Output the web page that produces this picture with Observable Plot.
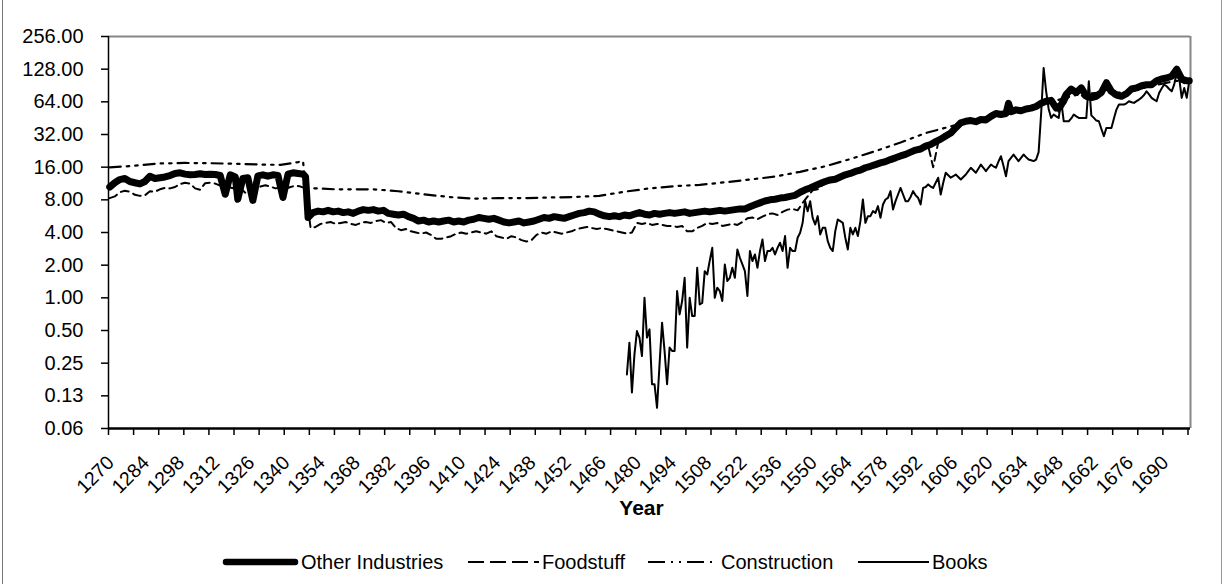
<!DOCTYPE html>
<html><head><meta charset="utf-8">
<script src="https://cdn.jsdelivr.net/npm/d3@7"></script>
<script src="https://cdn.jsdelivr.net/npm/@observablehq/plot@0.6"></script>
<style>
body{margin:0;background:#fff;}
#wrap{position:relative;width:1223px;height:584px;overflow:hidden;background:#fff;font-family:"Liberation Sans",Arial,sans-serif;}
#chart{position:absolute;left:0;top:0;}
.leg-sw{position:absolute;}
.leg-tx{position:absolute;font-size:20px;line-height:20px;color:#000;white-space:nowrap;}
#bl{position:absolute;left:2px;top:0;width:1px;height:584px;background:#777;}
#br{position:absolute;left:1221px;top:0;width:1px;height:584px;background:#999;}
</style></head>
<body><div id="wrap"><div id="chart"></div><div id="bl"></div><div id="br"></div></div>
<script>
// ---------- DATA ----------
const seriesNames = ["Other Industries", "Foodstuff", "Construction", "Books"];

const otherIndustries = [
[1270,10.5],[1272,11.5],[1274,12.3],[1276,12.6],[1278,11.8],[1280,11.5],[1282,11.2],[1284,11.8],[1286,13.2],[1288,12.6],
[1290,12.8],[1292,13.0],[1294,13.4],[1296,14.0],[1298,14.2],[1300,13.8],[1302,13.6],[1304,13.7],[1306,13.9],[1308,13.7],
[1310,13.8],[1312,13.7],[1314,13.4],[1316,9.0],[1318,13.6],[1320,13.0],[1321,8.1],[1323,12.6],[1325,12.8],[1327,7.9],
[1329,13.3],[1331,13.6],[1333,13.2],[1335,13.6],[1337,13.4],[1339,8.4],[1341,13.8],[1343,14.2],[1345,14.0],[1347,13.8],
[1348,13.0],[1349,5.5],[1351,6.1],[1353,6.3],[1355,6.2],[1357,6.4],[1359,6.2],[1361,6.3],[1363,6.1],[1365,6.2],
[1367,6.0],[1369,6.3],[1371,6.5],[1373,6.4],[1375,6.5],[1377,6.3],[1379,6.4],[1381,6.0],[1383,5.9],[1385,5.8],
[1387,5.9],[1389,5.6],[1391,5.4],[1393,5.1],[1395,5.2],[1397,5.0],[1399,5.1],[1401,5.0],[1403,5.1],[1405,5.2],
[1407,5.0],[1409,5.1],[1411,5.0],[1413,5.2],[1415,5.3],[1417,5.5],[1419,5.4],[1421,5.3],[1423,5.4],[1425,5.2],
[1427,5.0],[1429,4.9],[1431,5.0],[1433,5.1],[1435,4.9],[1437,5.0],[1439,5.1],[1441,5.3],[1443,5.5],[1445,5.4],
[1447,5.6],[1449,5.5],[1451,5.4],[1453,5.6],[1455,5.8],[1457,6.0],[1459,6.1],[1461,6.3],[1463,6.2],[1465,5.9],
[1467,5.7],[1469,5.6],[1471,5.7],[1473,5.6],[1475,5.8],[1477,5.7],[1479,5.9],[1481,6.1],[1483,5.9],[1485,5.8],
[1487,6.0],[1489,5.9],[1491,6.0],[1493,6.1],[1495,6.0],[1497,6.1],[1499,6.2],[1501,6.0],[1503,6.1],[1505,6.2],
[1507,6.3],[1509,6.2],[1511,6.3],[1513,6.4],[1515,6.3],[1517,6.4],[1519,6.5],[1521,6.6],[1523,6.6],[1525,6.9],
[1527,7.2],[1529,7.5],[1531,7.8],[1533,8.0],[1535,8.1],[1537,8.3],[1539,8.4],[1541,8.6],[1543,8.8],[1545,9.4],
[1547,9.9],[1549,10.3],[1551,10.8],[1553,11.3],[1555,11.8],[1557,12.2],[1559,12.4],[1561,13.0],[1563,13.6],[1565,14.0],
[1567,14.6],[1569,15.0],[1571,15.8],[1573,16.3],[1575,16.9],[1577,17.5],[1579,18.0],[1581,18.8],[1583,19.5],[1585,20.3],
[1587,21.0],[1589,22.0],[1591,23.0],[1593,23.5],[1595,25.0],[1597,25.9],[1599,27.5],[1601,29.0],[1603,31.0],[1605,33.0],
[1607,37.0],[1609,41.0],[1611,42.4],[1613,43.0],[1615,42.0],[1617,44.0],[1619,43.5],[1621,47.0],[1623,50.0],[1625,48.9],
[1627,50.0],[1628,62.0],[1629,52.0],[1631,54.0],[1633,53.0],[1635,55.0],[1637,56.0],[1639,58.0],[1641,62.0],[1643,64.8],
[1645,66.0],[1647,56.0],[1649,60.0],[1651,75.0],[1653,84.0],[1655,78.0],[1657,86.0],[1659,72.0],[1661,70.0],[1663,72.0],
[1665,78.0],[1667,96.0],[1669,80.0],[1671,74.0],[1673,72.0],[1675,76.0],[1677,84.0],[1679,86.0],[1681,90.0],[1683,92.0],
[1685,92.0],[1687,100.0],[1689,104.0],[1691,106.0],[1693,110.0],[1695,128.0],[1697,104.0],[1699,100.0],[1700,100.0]
];

const foodstuff = [
[1270,8.3],[1272,8.6],[1274,9.4],[1276,9.7],[1278,9.5],[1280,8.9],[1282,8.7],[1284,8.8],[1286,9.6],[1288,9.5],
[1290,10.0],[1292,10.3],[1294,10.2],[1296,10.5],[1298,11.2],[1300,11.5],[1302,11.3],[1304,10.2],[1306,9.9],[1308,11.4],
[1310,11.5],[1312,11.3],[1314,10.8],[1316,10.2],[1318,10.4],[1320,10.1],[1322,10.3],[1324,9.3],[1326,9.0],[1328,9.6],
[1330,10.6],[1332,10.9],[1334,10.6],[1336,10.2],[1338,10.4],[1340,10.1],[1342,10.5],[1344,10.8],[1346,10.6],[1348,10.2],
[1350,4.4],[1352,4.5],[1354,4.8],[1356,4.9],[1358,5.0],[1360,4.8],[1362,4.9],[1364,5.0],[1366,4.8],[1368,4.7],
[1370,4.9],[1372,5.0],[1374,4.9],[1376,5.1],[1378,5.2],[1380,4.9],[1382,5.0],[1384,4.4],[1386,4.2],[1388,4.3],
[1390,4.1],[1392,4.0],[1394,3.9],[1396,4.0],[1398,3.8],[1400,3.5],[1402,3.5],[1404,3.6],[1406,3.7],[1408,3.9],
[1410,4.0],[1412,3.9],[1414,4.0],[1416,4.1],[1418,4.0],[1420,3.9],[1422,4.1],[1424,3.7],[1426,3.6],[1428,3.5],
[1430,3.7],[1432,3.6],[1434,3.4],[1436,3.3],[1438,3.4],[1440,3.8],[1442,4.0],[1444,3.9],[1446,4.1],[1448,4.0],
[1450,3.9],[1452,4.0],[1454,4.1],[1456,4.3],[1458,4.4],[1460,4.5],[1462,4.4],[1464,4.3],[1466,4.4],[1468,4.3],
[1470,4.2],[1472,4.1],[1474,4.0],[1476,3.9],[1478,4.0],[1480,4.9],[1482,4.8],[1484,4.9],[1486,4.7],[1488,4.8],
[1490,4.7],[1492,4.6],[1494,4.6],[1496,4.5],[1498,4.6],[1500,4.1],[1502,4.1],[1504,4.4],[1506,4.6],[1508,4.9],
[1510,4.8],[1512,4.9],[1514,4.6],[1516,4.7],[1518,4.8],[1520,4.7],[1522,5.0],[1524,5.4],[1526,5.5],[1528,5.3],
[1530,5.6],[1532,5.9],[1534,6.0],[1536,5.8],[1538,6.2],[1540,6.5],[1542,6.6],[1544,6.4],[1546,7.5],[1548,8.6],
[1550,9.8],[1552,10.0],[1554,11.0],[1556,11.5],[1558,12.2],[1560,12.5],[1562,12.9],[1564,13.5],[1566,14.2],[1568,14.8],
[1570,15.4],[1572,16.0],[1574,16.8],[1576,17.2],[1578,17.8],[1580,18.5],[1582,19.2],[1584,20.0],[1586,21.0],[1588,21.5],
[1590,22.6],[1592,23.6],[1594,24.0],[1596,25.2],[1598,16.0],[1600,27.0],[1602,29.0],[1604,30.5],[1606,33.0],[1608,38.0],
[1610,41.0],[1612,42.0],[1614,41.0],[1616,43.0],[1618,44.0],[1620,45.0],[1622,48.0],[1624,49.0],[1626,50.0],[1628,56.0],
[1630,52.0],[1632,54.0],[1634,53.0],[1636,55.0],[1638,57.0],[1640,59.0],[1642,61.0],[1644,64.0],[1646,62.0],[1648,52.0],
[1650,58.0],[1652,72.0],[1654,82.0],[1656,78.0],[1658,70.0],[1660,68.0],[1662,70.0],[1664,73.0],[1666,85.0],[1668,80.0],
[1670,72.0],[1672,70.0],[1674,73.0],[1676,78.0],[1678,82.0],[1680,85.0],[1682,88.0],[1684,90.0],[1686,94.0],[1688,98.0],
[1690,104.0],[1692,108.0],[1694,118.0],[1696,100.0],[1698,95.0],[1700,98.0]
];

const construction = [
[1270,15.9],[1280,16.5],[1290,17.3],[1300,17.5],[1310,17.4],[1320,17.2],[1330,16.9],[1338,16.8],[1345,17.8],[1347,18.2],
[1348,10.3],[1360,10.0],[1375,10.0],[1385,9.6],[1395,9.0],[1405,8.5],[1415,8.2],[1425,8.3],[1435,8.3],[1445,8.4],
[1455,8.5],[1465,8.7],[1475,9.5],[1485,10.2],[1495,10.7],[1505,11.0],[1515,11.6],[1525,12.3],[1535,13.1],[1545,14.5],
[1555,16.3],[1565,19.0],[1575,22.5],[1585,27.0],[1595,33.0],[1605,38.0],[1615,44.0],[1625,50.0],[1635,55.0],[1645,64.0],
[1655,74.0],[1665,78.0],[1675,78.0],[1685,90.0],[1695,100.0],[1700,100.0]
];

const books = [
[1476,0.197],[1477,0.386],[1478,0.134],[1479,0.30],[1480,0.494],[1481,0.430],[1482,0.291],[1483,1.00],[1484,0.430],[1485,0.512],
[1486,0.160],[1487,0.160],[1488,0.097],[1489,0.244],[1490,0.590],[1491,0.324],[1492,0.160],[1493,0.348],[1494,0.324],[1495,0.324],
[1496,1.155],[1497,0.704],[1498,0.934],[1499,1.53],[1500,0.348],[1501,1.00],[1502,0.68],[1503,0.68],[1504,1.89],[1505,0.87],
[1506,0.90],[1507,1.76],[1508,1.64],[1509,2.2],[1510,2.89],[1511,1.00],[1512,1.24],[1513,1.155],[1514,0.934],[1515,2.03],
[1516,1.43],[1517,1.53],[1518,1.89],[1519,1.53],[1520,2.79],[1521,2.34],[1522,2.03],[1523,1.76],[1524,1.04],[1525,2.70],
[1526,2.18],[1527,2.51],[1528,1.89],[1529,2.70],[1530,3.45],[1531,2.18],[1532,2.70],[1533,2.70],[1534,2.89],[1535,2.51],
[1536,2.89],[1537,3.22],[1538,2.70],[1539,3.71],[1540,1.89],[1541,2.89],[1542,2.70],[1543,2.70],[1544,3.58],[1545,3.98],
[1546,4.91],[1547,7.78],[1548,6.29],[1549,7.78],[1550,5.46],[1551,4.74],[1552,5.66],[1553,3.84],[1554,4.42],[1555,4.42],
[1556,3.33],[1557,2.89],[1558,2.70],[1559,4.12],[1560,5.27],[1561,5.09],[1562,4.91],[1563,3.58],[1564,2.79],[1565,4.42],
[1566,3.84],[1567,4.42],[1568,3.71],[1569,5.09],[1570,8.06],[1571,4.91],[1572,5.66],[1573,5.66],[1574,6.29],[1575,6.07],
[1576,7.0],[1577,5.46],[1578,7.25],[1579,8.06],[1580,8.35],[1581,9.62],[1582,6.52],[1583,7.78],[1584,8.96],[1585,10.3],
[1586,8.96],[1587,7.78],[1588,7.78],[1589,8.5],[1590,9.62],[1591,8.8],[1592,8.35],[1593,7.25],[1594,10.3],[1595,10.5],
[1596,11.1],[1597,10.6],[1598,10.3],[1599,11.5],[1600,12.8],[1601,8.96],[1602,11.5],[1603,14.2],[1604,13.5],[1605,12.8],
[1606,13.2],[1607,13.7],[1608,13.0],[1609,12.3],[1610,13.0],[1611,13.7],[1612,14.7],[1613,15.8],[1614,15.0],[1615,14.2],
[1616,15.5],[1617,16.9],[1618,15.8],[1619,14.7],[1620,15.8],[1621,16.9],[1622,16.3],[1623,15.8],[1624,18.0],[1625,20.2],
[1626,16.5],[1627,13.2],[1628,18.2],[1629,19.5],[1630,20.9],[1631,19.5],[1632,18.2],[1633,19.5],[1634,20.9],[1635,19.8],
[1636,18.8],[1637,18.5],[1638,18.2],[1639,18.8],[1640,22],[1641,50],[1642,131],[1643,80],[1644,55],[1645,45.5],
[1646,48.9],[1647,47],[1648,45.5],[1649,64.8],[1650,42.4],[1651,42.4],[1652,42.4],[1653,45],[1654,48.9],[1655,47],
[1656,45.5],[1657,45.5],[1658,45.5],[1659,45.5],[1660,99],[1661,48],[1662,45.5],[1663,43],[1664,42.4],[1665,36],
[1666,30.9],[1667,36.8],[1668,36.8],[1669,36.8],[1670,45],[1671,54.3],[1672,60.4],[1673,60.4],[1674,60.4],[1675,62],
[1676,64.8],[1677,63.5],[1678,62.6],[1679,65],[1680,67.2],[1681,70],[1682,74],[1683,80],[1684,75],[1685,69.6],
[1686,67],[1687,64.8],[1688,77.3],[1689,85],[1690,92.3],[1691,89],[1692,84],[1693,80],[1694,92.3],[1695,120],
[1696,106],[1697,69.6],[1698,86],[1699,69.6],[1700,100]
];

const yTickValues = [0.0625, 0.125, 0.25, 0.5, 1, 2, 4, 8, 16, 32, 64, 128, 256];
const yTickLabels = ["0.06", "0.13", "0.25", "0.50", "1.00", "2.00", "4.00", "8.00", "16.00", "32.00", "64.00", "128.00", "256.00"];
const xTickLabels = ["1270","1284","1298","1312","1326","1340","1354","1368","1382","1396","1410","1424","1438","1452","1466",
  "1480","1494","1508","1522","1536","1550","1564","1578","1592","1606","1620","1634","1648","1662","1676","1690"];
const xTitle = "Year";

// ---------- CHART ----------
const rows = s => s.map(([year, value]) => ({year, value}));
const yLab = new Map(yTickValues.map((v, i) => [v, yTickLabels[i]]));
const xLabVals = xTickLabels.map(Number);
const xTickMarks = d3.range(1269.5, 1701, 10);
const FONT = '"Liberation Sans", Arial, sans-serif';

const chart = Plot.plot({
  width: 1223, height: 530,
  marginTop: 36, marginBottom: 102, marginLeft: 108, marginRight: 33,
  style: {fontFamily: FONT, fontSize: "20px", color: "#000", background: "transparent", overflow: "visible"},
  x: {domain: [1269.5, 1700.5]},
  y: {type: "log", base: 2, domain: [0.0625, 256]},
  marks: [
    Plot.ruleY([256], {stroke: "#868686", strokeWidth: 2}),
    Plot.ruleX([1700.5], {stroke: "#868686", strokeWidth: 2}),
    Plot.line(rows(otherIndustries), {x: "year", y: "value", stroke: "#000", strokeWidth: 7, strokeLinejoin: "round", strokeLinecap: "round"}),
    Plot.line(rows(foodstuff), {x: "year", y: "value", stroke: "#000", strokeWidth: 2, strokeDasharray: "8,5"}),
    Plot.line(rows(construction), {x: "year", y: "value", stroke: "#000", strokeWidth: 2.2, strokeDasharray: "11,6,2.5,6,2.5,6"}),
    Plot.line(rows(books), {x: "year", y: "value", stroke: "#000", strokeWidth: 2}),
    Plot.ruleX([1269.5], {stroke: "#000", strokeWidth: 1.5}),
    Plot.ruleY([0.0625], {stroke: "#000", strokeWidth: 2.5}),
    Plot.axisY({ticks: yTickValues, tickSize: 7, tickPadding: 18, tickFormat: d => yLab.get(d), label: null, strokeWidth: 1.5, fontSize: 20}),
    Plot.axisX({ticks: xTickMarks, tickSize: 7, tickFormat: () => "", label: null, strokeWidth: 1.5}),
    Plot.axisX({ticks: xLabVals, tickSize: 0, tickPadding: 31, tickRotate: -45, label: null, fontSize: 19.5, dx: 1,
      tickFormat: d => xTickLabels[xLabVals.indexOf(d)]}),
    Plot.text([xTitle], {frameAnchor: "bottom", dy: 86, dx: -8, fontWeight: "bold", fontSize: 21, fill: "#000"})
  ]
});
document.getElementById("chart").appendChild(chart);

// ---------- LEGEND ----------
const legendItems = [
  {name: seriesNames[0], sw: 223, tx: 301, width: 6.5, dash: null, cap: "round"},
  {name: seriesNames[1], sw: 468, tx: 542, width: 2, dash: "16,6", cap: "butt"},
  {name: seriesNames[2], sw: 648, tx: 721, width: 2, dash: "17,6,2,6,2,6", cap: "butt"},
  {name: seriesNames[3], sw: 858, tx: 932, width: 2, dash: null, cap: "butt"}
];
const wrap = document.getElementById("wrap");
const LY = 562;
for (const it of legendItems) {
  const w = it.tx - it.sw - 3;
  const s = document.createElementNS("http://www.w3.org/2000/svg", "svg");
  s.setAttribute("width", w + 6); s.setAttribute("height", 12);
  s.setAttribute("class", "leg-sw");
  s.style.left = (it.sw - 3) + "px"; s.style.top = (LY - 6) + "px";
  const l = document.createElementNS("http://www.w3.org/2000/svg", "line");
  l.setAttribute("x1", 3 + (it.cap === "round" ? 3 : 0)); l.setAttribute("x2", 3 + w - (it.cap === "round" ? 3 : 0));
  l.setAttribute("y1", 6); l.setAttribute("y2", 6);
  l.setAttribute("stroke", "#000"); l.setAttribute("stroke-width", it.width);
  l.setAttribute("stroke-linecap", it.cap);
  if (it.dash) l.setAttribute("stroke-dasharray", it.dash);
  s.appendChild(l);
  wrap.appendChild(s);
  const t = document.createElement("div");
  t.className = "leg-tx";
  t.textContent = it.name;
  t.style.left = it.tx + "px"; t.style.top = (LY - 10) + "px";
  wrap.appendChild(t);
}
</script></body></html>
